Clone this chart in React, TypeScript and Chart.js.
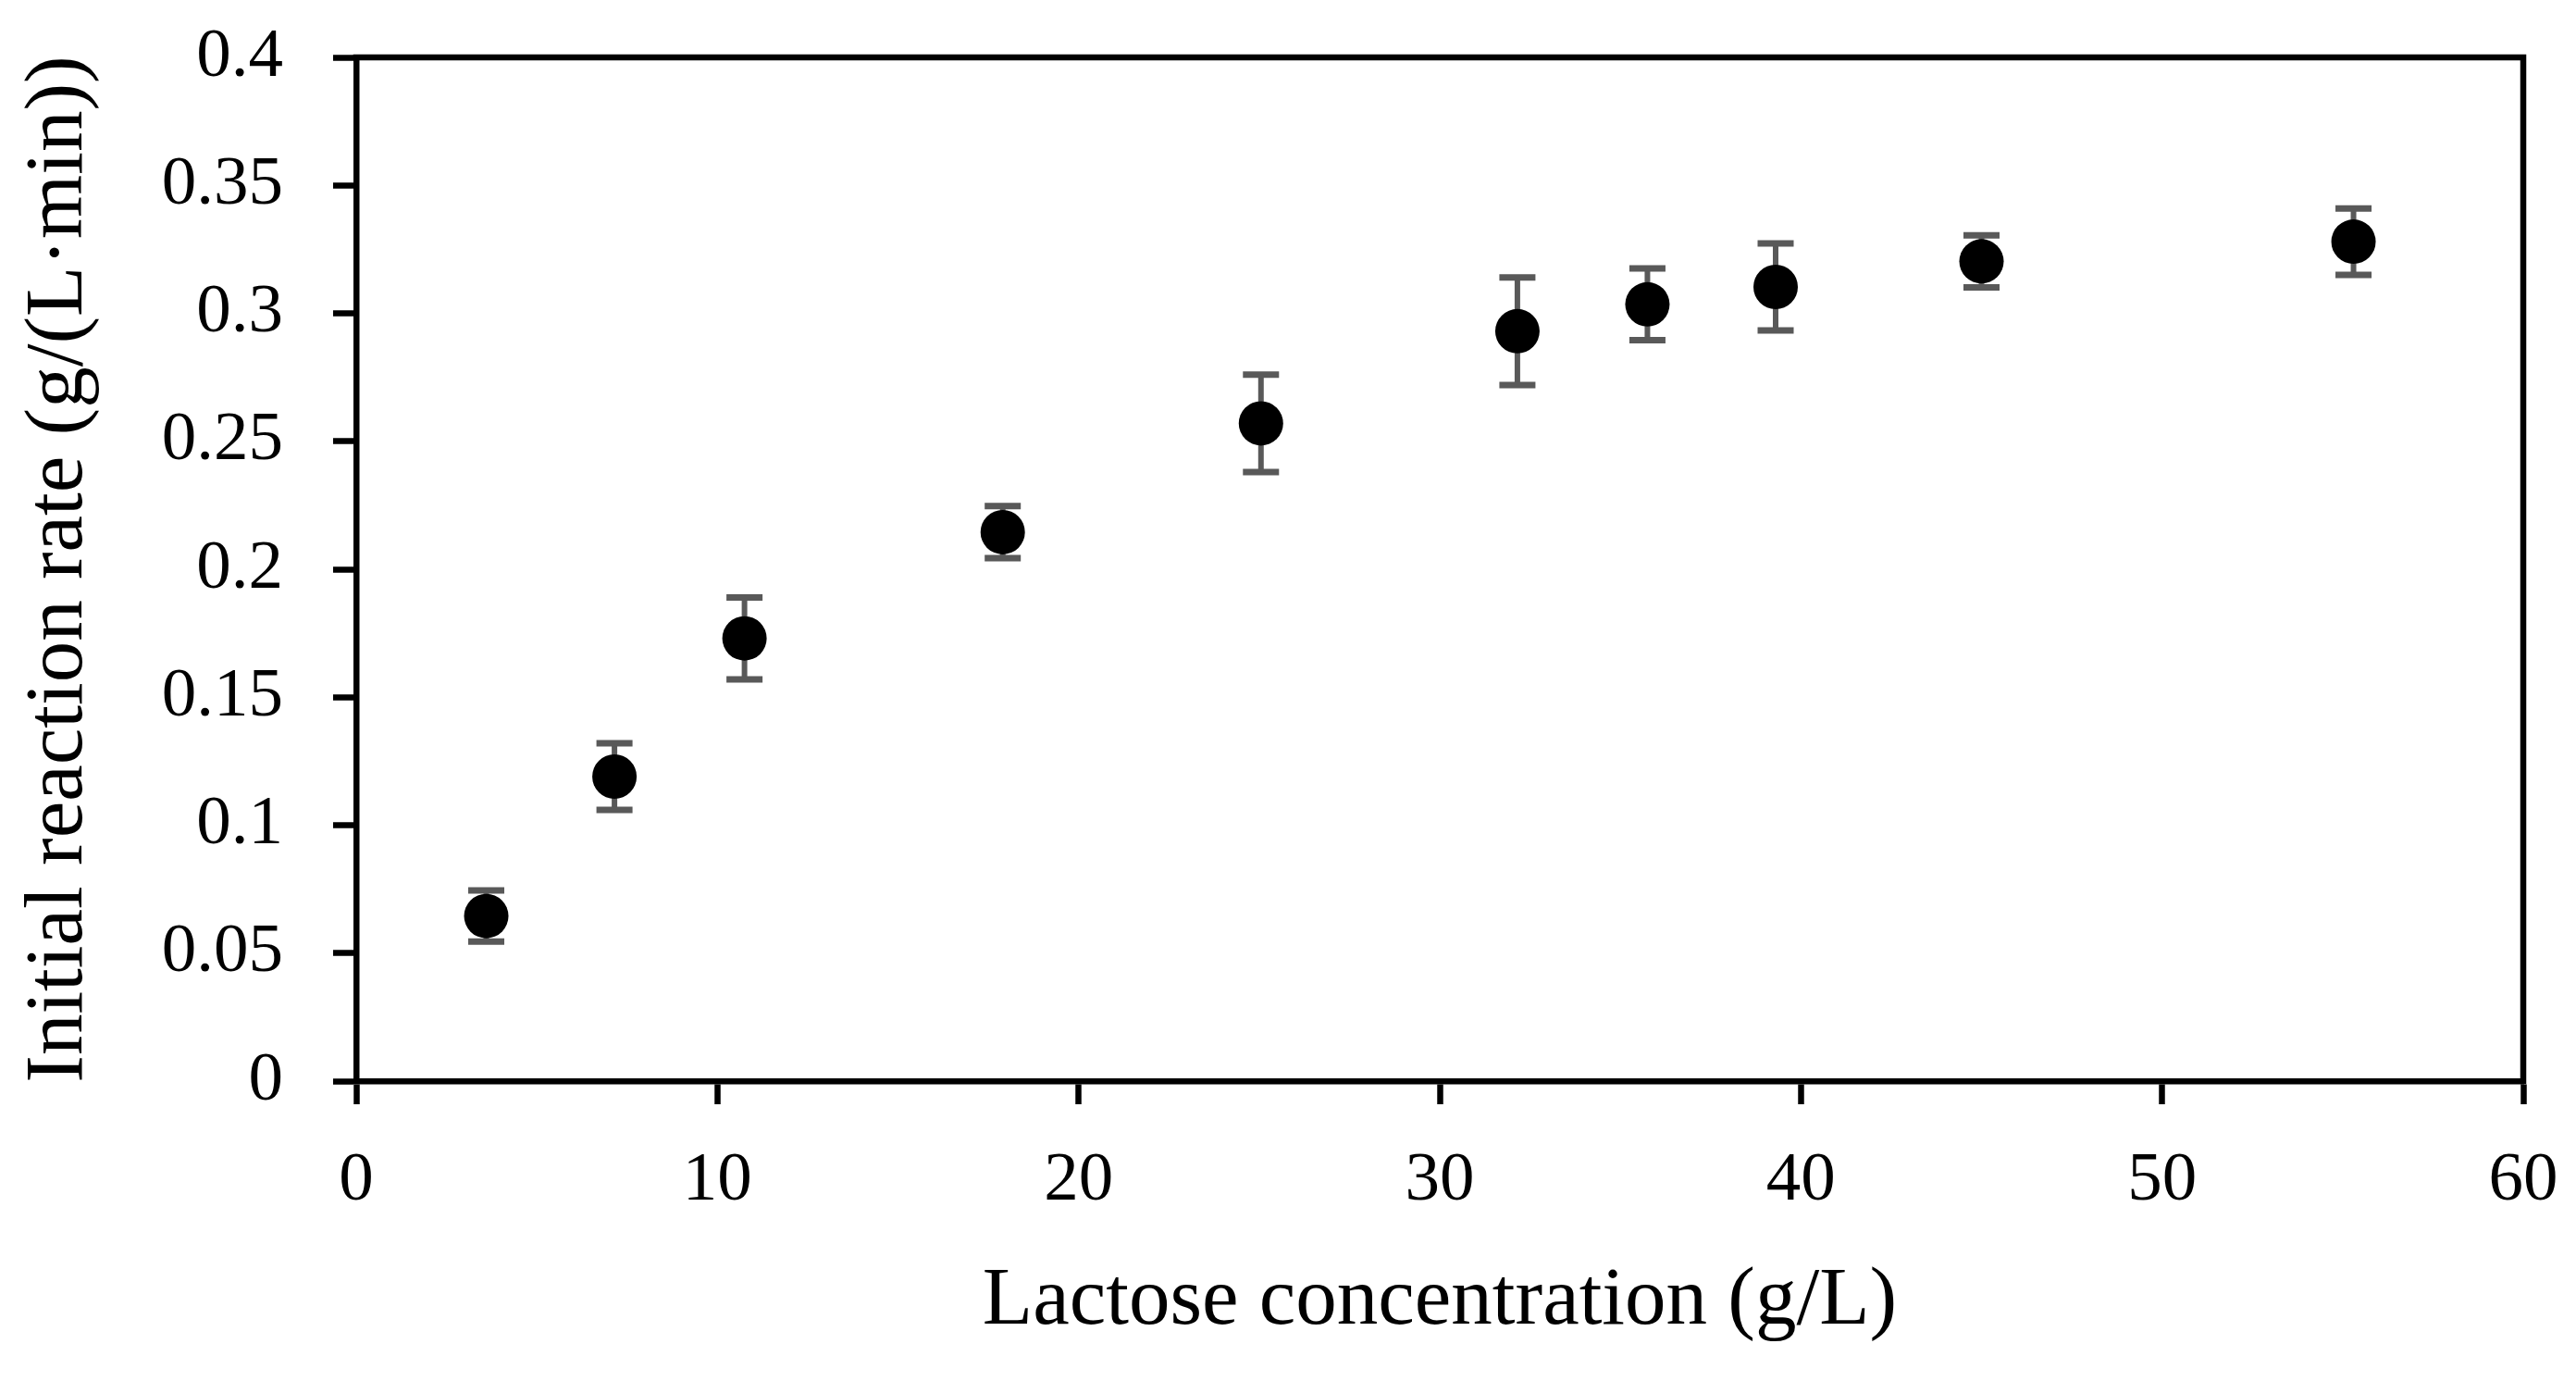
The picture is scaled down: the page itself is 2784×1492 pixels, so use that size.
import React, { useEffect, useRef } from "react";
import { Chart, registerables } from "chart.js";

Chart.register(...registerables);

// Data
const lactoseConc: number[] = [3.6, 7.15, 10.75, 17.9, 25.05, 32.15, 35.75, 39.3, 45.0, 55.3];
const reactionRate: number[] = [0.0645, 0.119, 0.173, 0.2145, 0.257, 0.293, 0.3035, 0.3103, 0.3203, 0.328];
const rateError: number[] = [0.01, 0.013, 0.016, 0.0102, 0.019, 0.021, 0.014, 0.017, 0.0102, 0.013];

const xTickValues: number[] = [0, 10, 20, 30, 40, 50, 60];
const yTickValues: number[] = [0, 0.05, 0.1, 0.15, 0.2, 0.25, 0.3, 0.35, 0.4];

const xTitle = "Lactose concentration (g/L)";
const yTitle = "Initial reaction rate (g/(L·min))";

const FONT = "'Liberation Serif', 'Times New Roman', serif";

const errorBarPlugin = {
  id: "errorBars",
  beforeDatasetsDraw(chart: any) {
    const { ctx, scales } = chart;
    const xs = scales.x;
    const ys = scales.y;
    ctx.save();
    ctx.strokeStyle = "#595959";
    for (let i = 0; i < lactoseConc.length; i++) {
      const px = xs.getPixelForValue(lactoseConc[i]);
      const top = ys.getPixelForValue(reactionRate[i] + rateError[i]);
      const bot = ys.getPixelForValue(reactionRate[i] - rateError[i]);
      ctx.lineWidth = 6;
      ctx.beginPath();
      ctx.moveTo(px, top);
      ctx.lineTo(px, bot);
      ctx.stroke();
      ctx.lineWidth = 7;
      ctx.beginPath();
      ctx.moveTo(px - 19.5, top);
      ctx.lineTo(px + 19.5, top);
      ctx.moveTo(px - 19.5, bot);
      ctx.lineTo(px + 19.5, bot);
      ctx.stroke();
    }
    ctx.restore();
  },
};

const frameBoxPlugin = {
  id: "frameBox",
  afterDraw(chart: any) {
    const { ctx, chartArea } = chart;
    ctx.save();
    ctx.strokeStyle = "#000";
    ctx.lineWidth = 6.5;
    ctx.lineCap = "square";
    ctx.beginPath();
    ctx.moveTo(chartArea.left, chartArea.top);
    ctx.lineTo(chartArea.right, chartArea.top);
    ctx.lineTo(chartArea.right, chartArea.bottom);
    ctx.stroke();
    ctx.restore();
  },
};

export default function App() {
  const canvasRef = useRef<HTMLCanvasElement | null>(null);

  useEffect(() => {
    if (!canvasRef.current) return;
    const chart = new Chart(canvasRef.current, {
      type: "scatter",
      data: {
        datasets: [
          {
            label: "rate",
            data: lactoseConc.map((x, i) => ({ x, y: reactionRate[i] })),
            backgroundColor: "#000",
            borderColor: "#000",
            pointRadius: 24,
            pointHoverRadius: 24,
            pointBorderWidth: 0,
          },
        ],
      },
      options: {
        animation: false,
        responsive: true,
        maintainAspectRatio: false,
        layout: { padding: { left: 0, top: 62, right: 57, bottom: 0 } },
        plugins: {
          legend: { display: false },
          tooltip: { enabled: false },
        },
        scales: {
          x: {
            type: "linear",
            min: 0,
            max: 60,
            afterBuildTicks: (scale: any) => {
              scale.ticks = xTickValues.map((v) => ({ value: v }));
            },
            afterFit: (scale: any) => {
              scale.height = 324;
              scale.paddingLeft = 0;
              scale.paddingRight = 0;
            },
            border: { display: true, color: "#000", width: 6.5 },
            grid: {
              drawOnChartArea: false,
              drawTicks: true,
              tickLength: 25,
              tickWidth: 6.5,
              tickColor: "#000",
              color: "#000",
            },
            ticks: {
              color: "#000",
              padding: 38,
              maxRotation: 0,
              font: { family: FONT, size: 75 },
              callback: (v: any) => String(v),
            },
            title: {
              display: true,
              text: xTitle,
              color: "#000",
              font: { family: FONT, size: 89 },
              padding: { top: 0, bottom: 32 },
            },
          },
          y: {
            type: "linear",
            min: 0,
            max: 0.4,
            afterBuildTicks: (scale: any) => {
              scale.ticks = yTickValues.map((v) => ({ value: v }));
            },
            afterFit: (scale: any) => {
              scale.width = 385;
              scale.paddingTop = 0;
              scale.paddingBottom = 0;
            },
            border: { display: true, color: "#000", width: 6.5 },
            grid: {
              drawOnChartArea: false,
              drawTicks: true,
              tickLength: 25,
              tickWidth: 6.5,
              tickColor: "#000",
              color: "#000",
            },
            ticks: {
              color: "#000",
              padding: 54,
              font: { family: FONT, size: 75 },
              callback: (v: any) => String(Number(Number(v).toFixed(2))),
            },
            title: {
              display: true,
              text: yTitle,
              color: "#000",
              font: { family: FONT, size: 89 },
              padding: { top: 11, bottom: 0 },
            },
          },
        },
      },
      plugins: [errorBarPlugin, frameBoxPlugin],
    });
    return () => chart.destroy();
  }, []);

  return (
    <div style={{ position: "absolute", left: 0, top: 0, width: 2784, height: 1492, background: "#fff" }}>
      <canvas ref={canvasRef} />
    </div>
  );
}
